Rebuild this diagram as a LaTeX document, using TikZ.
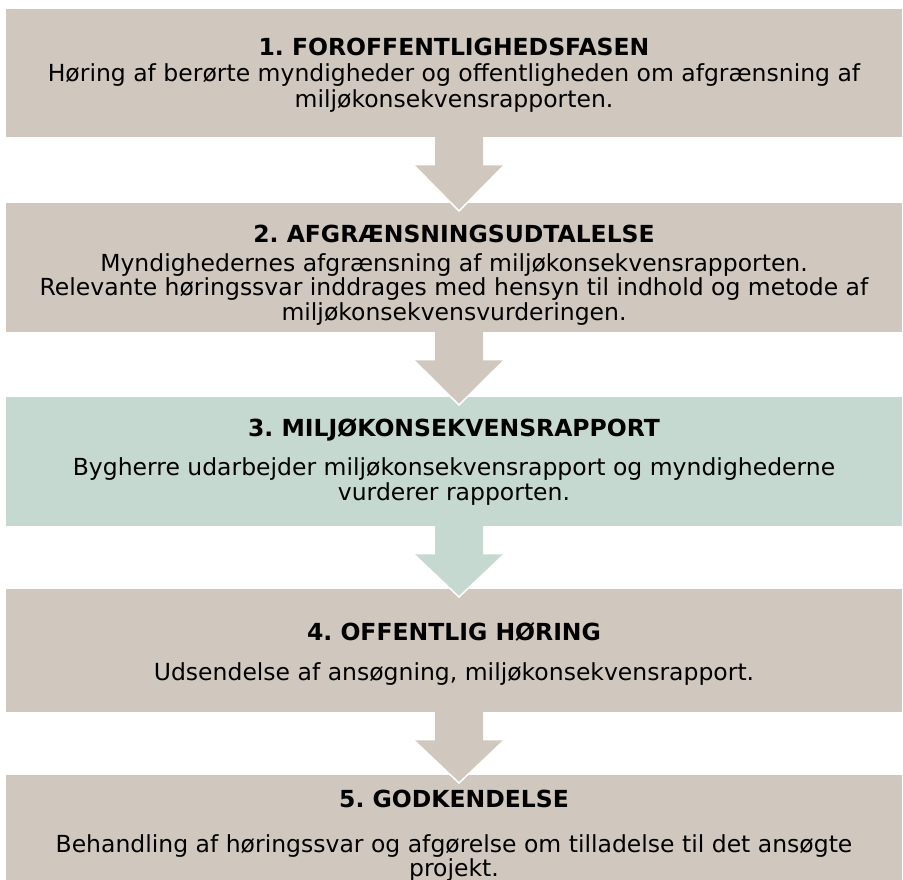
\documentclass[tikz,border=0pt]{standalone}
\usepackage{fontspec}
\setmainfont{DejaVu Sans}
\frenchspacing
\usetikzlibrary{calc}
\definecolor{phaseTan}{RGB}{208,200,190}
\definecolor{phaseGreen}{RGB}{197,217,209}
\tikzset{
    phase/.style={rectangle,fill=#1,minimum width=896pt,anchor=north west,inner sep=0pt},
    phasetitle/.style={anchor=base,inner sep=0pt,font=\bfseries\fontsize{23.5}{25}\selectfont},
    phasetext/.style={anchor=base,inner sep=0pt,align=center,font=\fontsize{23.5}{24.5}\selectfont}
}
% block arrow from one phase box down into the next
\newcommand{\phasearrow}[3]{%
  \coordinate (#1top) at (#1.south -| axis);
  \coordinate (#1tip) at ($(#2.north -| axis)+(0,8)$);
  \fill[#3] ($(#1top)+(-24,-1)$) -- ($(#1top)+(-24,28)$) -- ($(#1top)+(-45,28)$) -- (#1tip)
    -- ($(#1top)+(45,28)$) -- ($(#1top)+(24,28)$) -- ($(#1top)+(24,-1)$) -- cycle;
  \draw[white,line width=1.5pt,line join=miter] ($(#1top)+(-45,28)$) -- (#1tip) -- ($(#1top)+(45,28)$);
}

\begin{document}
\begin{tikzpicture}[x=1pt,y=-1pt]
  \useasboundingbox[fill=white] (0,0) rectangle (903,880);
  \coordinate (axis) at (459,0);

  \node[phase=phaseTan,minimum height=128pt]   (box1) at (6,9)   {};
  \node[phase=phaseTan,minimum height=129pt]   (box2) at (6,203) {};
  \node[phase=phaseGreen,minimum height=129pt] (box3) at (6,397) {};
  \node[phase=phaseTan,minimum height=123pt]   (box4) at (6,589) {};
  \node[phase=phaseTan,minimum height=106pt]   (box5) at (6,775) {};

  \phasearrow{box1}{box2}{phaseTan}
  \phasearrow{box2}{box3}{phaseTan}
  \phasearrow{box3}{box4}{phaseGreen}
  \phasearrow{box4}{box5}{phaseTan}

  % text nodes sit on the baseline of their last line
  \node[phasetitle] (title1) at (454,56) {1. FOROFFENTLIGHEDSFASEN};
  \node[phasetext,font=\fontsize{23.5}{26}\selectfont] (text1) at (454,108)
    {Høring af berørte myndigheder og offentligheden om afgrænsning af\\miljøkonsekvensrapporten.};

  \node[phasetitle] (title2) at (454,243) {2. AFGRÆNSNINGSUDTALELSE};
  \node[phasetext] (text2) at (454,320)
    {Myndighedernes afgrænsning af miljøkonsekvensrapporten.\\Relevante høringssvar inddrages med hensyn til indhold og metode af\\miljøkonsekvensvurderingen.};

  \node[phasetitle] (title3) at (454,436) {3. MILJØKONSEKVENSRAPPORT};
  \node[phasetext] (text3) at (454,500)
    {Bygherre udarbejder miljøkonsekvensrapport og myndighederne\\vurderer rapporten.};

  \node[phasetitle] (title4) at (454,640) {4. OFFENTLIG HØRING};
  \node[phasetext] (text4) at (454,680)
    {Udsendelse af ansøgning, miljøkonsekvensrapport.};

  \node[phasetitle] (title5) at (454,807) {5. GODKENDELSE};
  \node[phasetext,font=\fontsize{23.5}{23.5}\selectfont] (text5) at (454,876)
    {Behandling af høringssvar og afgørelse om tilladelse til det ansøgte\\projekt.};
\end{tikzpicture}
\end{document}
